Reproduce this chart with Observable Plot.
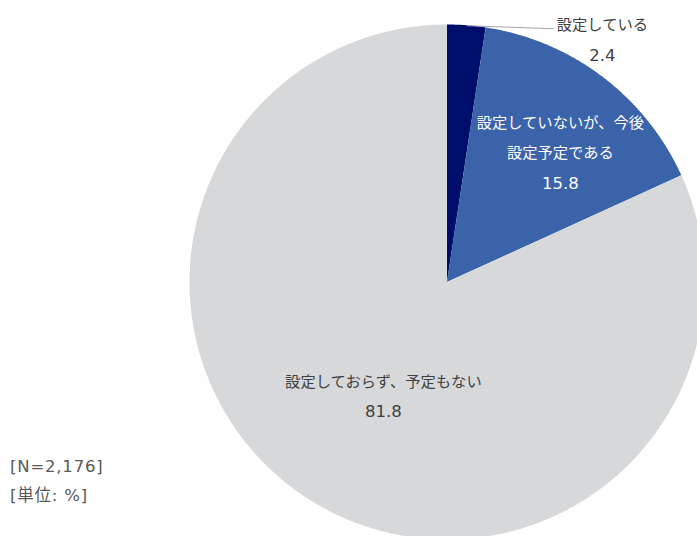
<!DOCTYPE html>
<html><head><meta charset="utf-8">
<script src="https://cdn.jsdelivr.net/npm/d3@7"></script>
<script src="https://cdn.jsdelivr.net/npm/@observablehq/plot@0.6"></script>
<style>
html,body{margin:0;padding:0;background:#fff;overflow:hidden;}
#wrap{position:relative;width:697px;height:536px;overflow:hidden;}
#wrap svg{position:absolute;left:0;top:0;}
.note{position:absolute;left:10px;font-family:"DejaVu Sans","Noto Sans CJK JP",sans-serif;font-size:16.5px;letter-spacing:0.8px;color:#595959;line-height:1;white-space:nowrap;}
</style></head><body><div id="wrap"></div>
<script>
const categories = ["設定している", "設定していないが、今後設定予定である", "設定しておらず、予定もない"];
const values = [2.4, 15.8, 81.8];
const labelLines = [["設定している"], ["設定していないが、今後", "設定予定である"], ["設定しておらず、予定もない"]];
const colors = ["#000e6b", "#3a63a9", "#d7d8da"];
const notes = ["[N=2,176]", "[単位: %]"];

// layout (pixels)
const CX = 447, CY = 282, R = 257.5, W = 697, H = 536;
const PX = 1 / R; // data units per pixel
const labelLayout = [
  {f: 1.0, dx: 135.5, dy: 15, gap: 30.5, color: "#404040", leader: {dx: 87, dy: 3}},
  {f: 0.74, dx: -2, dy: 23, gap: 30, color: "#ffffff"},
  {f: 0.46, dx: 0, dy: 14.5, gap: 30, color: "#404040"}
];

const total = d3.sum(values);
let acc = 0;
const slices = categories.map((c, i) => {
  const a0 = acc / total * 2 * Math.PI;
  acc += values[i];
  const a1 = acc / total * 2 * Math.PI;
  return {category: c, value: values[i], a0, a1, mid: (a0 + a1) / 2, i};
});

const arcPts = [];
for (const s of slices) {
  const n = Math.max(2, Math.ceil((s.a1 - s.a0) / (Math.PI / 360)));
  for (let k = 0; k <= n; k++) {
    const a = s.a0 + (s.a1 - s.a0) * k / n;
    arcPts.push({category: s.category, x: Math.sin(a), y: Math.cos(a)});
  }
}

const nameRows = [], valueRows = [], leaders = [];
for (const s of slices) {
  const L = labelLayout[s.i];
  const ax = L.f * Math.sin(s.mid) + L.dx * PX;
  const ay = L.f * Math.cos(s.mid) - L.dy * PX;
  const lines = labelLines[s.i];
  const n = lines.length + 1;
  lines.forEach((t, j) => {
    nameRows.push({text: t, x: ax, y: ay - (j - (n - 1) / 2) * L.gap * PX, color: L.color});
  });
  valueRows.push({text: s.value.toFixed(1), x: ax, y: ay - (n - 1 - (n - 1) / 2) * L.gap * PX, color: L.color});
  if (L.leader) {
    const mx = Math.sin(s.mid), my = Math.cos(s.mid);
    leaders.push({x1: mx, y1: my, x2: mx + L.leader.dx * PX, y2: my - L.leader.dy * PX});
  }
}

const chart = Plot.plot({
  width: W, height: H,
  margin: 0,
  style: {background: "transparent", overflow: "visible"},
  x: {domain: [-1, 1], range: [CX - R, CX + R], axis: null},
  y: {domain: [-1, 1], range: [CY + R, CY - R], axis: null},
  color: {domain: categories, range: colors},
  marks: [
    Plot.area(arcPts, {x1: "x", y1: "y", x2: () => 0, y2: () => 0, z: "category", fill: "category", curve: "linear"}),
    Plot.link(leaders, {x1: "x1", y1: "y1", x2: "x2", y2: "y2", stroke: "#a6a6a6", strokeWidth: 1}),
    Plot.text(nameRows, {x: "x", y: "y", text: "text", fill: d => d.color, fontSize: 15.3, fontFamily: "'Noto Sans CJK JP', sans-serif", textAnchor: "middle"}),
    Plot.text(valueRows, {x: "x", y: "y", text: "text", fill: d => d.color, fontSize: 16.5, fontFamily: "'DejaVu Sans', sans-serif", textAnchor: "middle"})
  ]
});
const wrap = document.getElementById("wrap");
wrap.appendChild(chart);
notes.forEach((t, i) => {
  const d = document.createElement("div");
  d.className = "note";
  d.textContent = t;
  d.style.top = (459 + i * 29) + "px";
  wrap.appendChild(d);
});
</script></body></html>
